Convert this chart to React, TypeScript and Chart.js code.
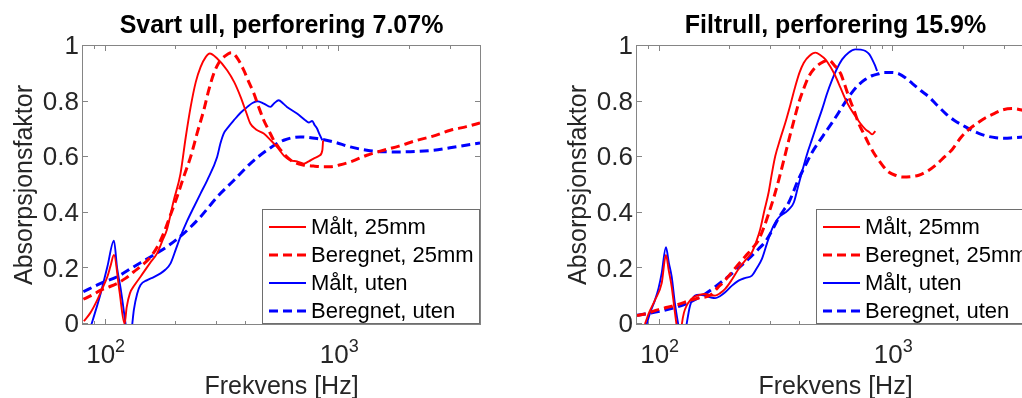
import React, { useEffect, useRef } from 'react';
import { Chart, registerables } from 'chart.js';

Chart.register(...registerables);

// ---------- axis definitions ----------
const X_MIN = 80;
const X_MAX = 4000;
const Y_MIN = 0;
const Y_MAX = 1;
const yTicks = [0, 0.2, 0.4, 0.6, 0.8, 1];
const yTickLabels = ['0', '0.2', '0.4', '0.6', '0.8', '1'];
const xMajorTicks = [100, 1000];
const xMajorBase = ['10', '10'];
const xMajorExp = ['2', '3'];
const xMinorTicks = [90, 200, 300, 400, 500, 600, 700, 800, 900, 2000, 3000];
const xAxisLabel = 'Frekvens [Hz]';
const yAxisLabel = 'Absorpsjonsfaktor';
const legendLabels = ['Målt, 25mm', 'Beregnet, 25mm', 'Målt, uten', 'Beregnet, uten'];
const titleLeft = 'Svart ull, perforering 7.07%';
const titleRight = 'Filtrull, perforering 15.9%';

// ---------- left panel data ----------
const leftMaalt25Freq = [80.7, 86, 92, 97, 101.7, 105, 108.5, 114.5, 120.5, 123, 127, 133, 141, 155, 166, 175, 183, 195, 209, 220, 231, 243, 255, 268, 279, 300, 331, 355, 378, 400, 416, 440, 475, 510, 541, 580, 617, 660, 705, 740, 776, 820, 846, 852];
const leftMaalt25Alpha = [0.01, 0.04, 0.086, 0.13, 0.17, 0.21, 0.248, 0.12, 0.0, 0.06, 0.11, 0.14, 0.17, 0.22, 0.254, 0.3, 0.34, 0.44, 0.54, 0.67, 0.78, 0.87, 0.925, 0.96, 0.973, 0.955, 0.913, 0.87, 0.817, 0.76, 0.721, 0.7, 0.685, 0.66, 0.637, 0.605, 0.589, 0.585, 0.577, 0.585, 0.595, 0.605, 0.625, 0.66];

const leftBeregnet25Freq = [80.3, 88, 95.2, 103, 112, 122, 132, 144, 156, 167, 177, 189, 202, 216, 231, 247, 263, 276, 290, 305, 320, 345, 367, 390, 410, 431, 452, 475, 500, 524, 550, 578, 606, 636, 700, 776, 850, 914, 1000, 1115, 1312, 1546, 1800, 2154, 2500, 2987, 3500, 4000];
const leftBeregnet25Alpha = [0.089, 0.105, 0.122, 0.133, 0.146, 0.165, 0.188, 0.213, 0.242, 0.28, 0.326, 0.39, 0.457, 0.53, 0.601, 0.69, 0.769, 0.84, 0.9, 0.94, 0.96, 0.976, 0.955, 0.913, 0.87, 0.829, 0.78, 0.733, 0.695, 0.661, 0.635, 0.613, 0.596, 0.583, 0.572, 0.568, 0.566, 0.566, 0.572, 0.583, 0.607, 0.625, 0.64, 0.661, 0.675, 0.697, 0.71, 0.723];

const leftMaaltUtenFreq = [86.3, 90, 95.2, 101.7, 108.5, 112, 115.9, 121.7, 124, 128, 130, 132, 136.5, 141, 150.6, 160, 171.8, 180, 189.6, 200, 209, 223, 238.6, 255, 272, 300, 310, 320, 336, 354, 378, 404, 425, 445, 475, 507, 528, 550, 575, 597, 659, 715, 740, 765, 785, 803, 825, 846];
const leftMaaltUtenAlpha = [-0.01, 0.04, 0.11, 0.206, 0.3, 0.2, 0.128, 0.0, -0.05, -0.05, 0.0, 0.05, 0.11, 0.14, 0.158, 0.168, 0.182, 0.195, 0.218, 0.27, 0.314, 0.37, 0.421, 0.47, 0.517, 0.601, 0.65, 0.685, 0.71, 0.733, 0.76, 0.781, 0.795, 0.801, 0.793, 0.781, 0.795, 0.805, 0.793, 0.781, 0.757, 0.733, 0.725, 0.73, 0.715, 0.703, 0.68, 0.661];

const leftBeregnetUtenFreq = [80.3, 95.2, 112, 132, 156, 183, 216, 255, 300, 354, 416, 490, 578, 681, 803, 945, 1115, 1312, 1500, 1822, 2536, 3200, 4000];
const leftBeregnetUtenAlpha = [0.116, 0.146, 0.17, 0.206, 0.242, 0.278, 0.326, 0.386, 0.457, 0.517, 0.577, 0.625, 0.661, 0.673, 0.667, 0.655, 0.637, 0.625, 0.62, 0.619, 0.625, 0.638, 0.651];

// ---------- right panel data ----------
const rightMaalt25Freq = [86.5, 90, 95.5, 102, 106.4, 109.5, 112.6, 115.5, 118, 120, 123, 124.5, 127, 130.5, 135, 139.5, 147, 156.5, 165, 172.7, 181, 190.7, 204, 217.6, 233, 248.3, 260, 269.4, 281, 292.6, 302, 312.5, 328, 345, 363, 381, 397, 414, 438, 464, 488, 512, 538, 565, 594, 624, 655, 688, 722, 760, 790, 812, 838];
const rightMaalt25Alpha = [0.0, 0.04, 0.086, 0.146, 0.248, 0.19, 0.134, 0.06, 0.0, -0.05, -0.05, 0.0, 0.04, 0.066, 0.085, 0.096, 0.104, 0.108, 0.104, 0.102, 0.11, 0.126, 0.16, 0.198, 0.23, 0.258, 0.3, 0.341, 0.41, 0.473, 0.54, 0.604, 0.665, 0.724, 0.79, 0.856, 0.905, 0.94, 0.965, 0.976, 0.967, 0.952, 0.925, 0.892, 0.85, 0.808, 0.775, 0.748, 0.722, 0.7, 0.69, 0.682, 0.694];

const rightBeregnet25Freq = [80, 90, 97, 108, 120, 135, 146, 165, 177, 190.7, 210, 232, 248, 265, 280, 293, 308, 323, 340, 357, 375, 393, 413, 434, 460, 487, 530, 560, 595, 620, 645, 678, 711, 747, 784, 824, 866, 910, 955, 1020, 1091, 1180, 1285, 1400, 1515, 1650, 1787, 1950, 2105, 2300, 2482, 2700, 2927, 3250, 3566, 4000];
const rightBeregnet25Alpha = [0.03, 0.04, 0.05, 0.06, 0.07, 0.085, 0.093, 0.104, 0.13, 0.158, 0.2, 0.242, 0.27, 0.302, 0.35, 0.398, 0.455, 0.517, 0.59, 0.661, 0.73, 0.793, 0.845, 0.889, 0.92, 0.937, 0.949, 0.93, 0.901, 0.86, 0.817, 0.77, 0.721, 0.685, 0.649, 0.616, 0.589, 0.565, 0.547, 0.535, 0.529, 0.53, 0.535, 0.55, 0.571, 0.6, 0.628, 0.672, 0.7, 0.724, 0.742, 0.757, 0.77, 0.775, 0.769, 0.755];

const rightMaaltUtenFreq = [88, 91, 95.5, 99, 102, 106.4, 109.5, 112.6, 116, 120, 123, 128, 130.5, 134.9, 141.8, 148, 156.5, 165, 172.7, 181, 190.7, 204, 217.6, 233, 248.3, 260, 274, 288, 302.5, 315, 328.5, 345, 360, 375, 390, 406, 427, 449, 472, 496, 521, 548, 575, 604, 645, 688, 725, 760, 790, 812, 835, 852];
const rightMaaltUtenAlpha = [0.0, 0.04, 0.086, 0.13, 0.182, 0.276, 0.22, 0.17, 0.08, 0.0, -0.05, -0.05, 0.0, 0.066, 0.102, 0.105, 0.102, 0.096, 0.093, 0.1, 0.114, 0.138, 0.156, 0.166, 0.174, 0.2, 0.234, 0.29, 0.341, 0.37, 0.389, 0.401, 0.415, 0.437, 0.49, 0.545, 0.61, 0.665, 0.72, 0.773, 0.83, 0.88, 0.92, 0.952, 0.977, 0.988, 0.987, 0.982, 0.97, 0.952, 0.93, 0.91];

const rightBeregnetUtenFreq = [80, 102, 128, 156.5, 190.7, 232, 265, 282, 300, 320, 340, 357, 393, 420, 449, 480, 512, 548, 584, 625, 666, 710, 760, 810, 866, 910, 980, 1057, 1130, 1207, 1310, 1420, 1540, 1675, 1820, 1979, 2150, 2333, 2540, 2752, 3000, 3247, 3594, 4000];
const rightBeregnetUtenAlpha = [0.031, 0.047, 0.071, 0.108, 0.162, 0.222, 0.27, 0.294, 0.33, 0.375, 0.41, 0.437, 0.521, 0.57, 0.617, 0.655, 0.689, 0.725, 0.761, 0.8, 0.833, 0.86, 0.88, 0.893, 0.9, 0.905, 0.905, 0.9, 0.885, 0.865, 0.84, 0.817, 0.787, 0.757, 0.733, 0.715, 0.698, 0.685, 0.675, 0.67, 0.668, 0.67, 0.673, 0.68];

// ---------- styling ----------
const FONT = '"Liberation Sans", Arial, Helvetica, sans-serif';
const RED = '#ff0000';
const BLUE = '#0000ff';
const TEXT_GRAY = '#262626';
const FRAME_GRAY = '#858585';
const SOLID_W = 1.9;
const DASH_W = 3;

type Series = { label: string; freq: number[]; alpha: number[]; color: string; dashed: boolean };

function makeSeries(f1: number[], a1: number[], f2: number[], a2: number[], f3: number[], a3: number[], f4: number[], a4: number[]): Series[] {
  return [
    { label: legendLabels[0], freq: f1, alpha: a1, color: RED, dashed: false },
    { label: legendLabels[1], freq: f2, alpha: a2, color: RED, dashed: true },
    { label: legendLabels[2], freq: f3, alpha: a3, color: BLUE, dashed: false },
    { label: legendLabels[3], freq: f4, alpha: a4, color: BLUE, dashed: true },
  ];
}

const leftSeries = makeSeries(leftMaalt25Freq, leftMaalt25Alpha, leftBeregnet25Freq, leftBeregnet25Alpha, leftMaaltUtenFreq, leftMaaltUtenAlpha, leftBeregnetUtenFreq, leftBeregnetUtenAlpha);
const rightSeries = makeSeries(rightMaalt25Freq, rightMaalt25Alpha, rightBeregnet25Freq, rightBeregnet25Alpha, rightMaaltUtenFreq, rightMaaltUtenAlpha, rightBeregnetUtenFreq, rightBeregnetUtenAlpha);

function decorPlugin(title: string, series: Series[]) {
  return {
    id: 'matlabDecor',
    afterDatasetsDraw(chart: any) {
      const { ctx, chartArea: a, scales } = chart;
      const xs = scales.x;
      const ys = scales.y;
      const L = Math.round(a.left), R = Math.round(a.right), T = Math.round(a.top), B = Math.round(a.bottom);
      ctx.save();
      // frame
      ctx.strokeStyle = FRAME_GRAY;
      ctx.lineWidth = 1;
      ctx.strokeRect(L - 0.5, T - 0.5, R - L + 1, B - T + 1);
      // ticks (inward)
      ctx.beginPath();
      yTicks.forEach((v) => {
        const py = Math.round(ys.getPixelForValue(v)) - 0.5;
        ctx.moveTo(L, py); ctx.lineTo(L + 5, py);
        ctx.moveTo(R, py); ctx.lineTo(R - 5, py);
      });
      xMajorTicks.forEach((v) => {
        const px = Math.round(xs.getPixelForValue(v)) - 0.5;
        ctx.moveTo(px, B); ctx.lineTo(px, B - 5);
        ctx.moveTo(px, T); ctx.lineTo(px, T + 5);
      });
      xMinorTicks.forEach((v) => {
        const px = Math.round(xs.getPixelForValue(v)) - 0.5;
        ctx.moveTo(px, B); ctx.lineTo(px, B - 3);
        ctx.moveTo(px, T); ctx.lineTo(px, T + 3);
      });
      ctx.stroke();

      // y tick labels
      ctx.fillStyle = TEXT_GRAY;
      ctx.font = `26px ${FONT}`;
      ctx.textAlign = 'right';
      ctx.textBaseline = 'middle';
      yTicks.forEach((v, i) => {
        ctx.fillText(yTickLabels[i], L - 4, ys.getPixelForValue(v) + 1);
      });
      // x tick labels with superscript exponent
      ctx.textAlign = 'left';
      ctx.textBaseline = 'alphabetic';
      xMajorTicks.forEach((v, i) => {
        const px = xs.getPixelForValue(v);
        ctx.font = `26px ${FONT}`;
        const wb = ctx.measureText(xMajorBase[i]).width;
        ctx.font = `18px ${FONT}`;
        const we = ctx.measureText(xMajorExp[i]).width;
        const x0 = px - (wb + we) / 2;
        ctx.font = `26px ${FONT}`;
        ctx.fillText(xMajorBase[i], x0, B + 39);
        ctx.font = `18px ${FONT}`;
        ctx.fillText(xMajorExp[i], x0 + wb, B + 28);
      });
      // axis labels
      ctx.font = `25px ${FONT}`;
      ctx.textAlign = 'center';
      ctx.fillText(xAxisLabel, (L + R) / 2, B + 70);
      ctx.save();
      ctx.translate(L - 51, (T + B) / 2);
      ctx.rotate(-Math.PI / 2);
      ctx.fillText(yAxisLabel, 0, 0);
      ctx.restore();
      // title
      ctx.fillStyle = '#000000';
      ctx.font = `bold 25px ${FONT}`;
      ctx.fillText(title, (L + R) / 2, 33);

      // legend
      const lw = 218, lh = 115;
      const lx = R - lw, ly = B - lh;
      ctx.fillStyle = '#ffffff';
      ctx.fillRect(lx, ly, lw, lh);
      ctx.strokeStyle = '#6e6e6e';
      ctx.lineWidth = 1;
      ctx.strokeRect(lx + 0.5, ly + 0.5, lw - 1, lh - 1);
      ctx.font = `22px ${FONT}`;
      ctx.textAlign = 'left';
      ctx.textBaseline = 'middle';
      series.forEach((s, i) => {
        const cy = ly + 18 + i * 28;
        ctx.strokeStyle = s.color;
        ctx.lineWidth = s.dashed ? DASH_W : SOLID_W;
        ctx.setLineDash(s.dashed ? [9, 5] : []);
        ctx.beginPath();
        ctx.moveTo(lx + 7, cy);
        ctx.lineTo(lx + 44, cy);
        ctx.stroke();
        ctx.setLineDash([]);
        ctx.fillStyle = '#000000';
        ctx.fillText(s.label, lx + 49, cy + 1);
      });
      ctx.restore();
    },
  };
}

function Panel(props: { title: string; series: Series[]; left: number; width: number; padLeft: number; padRight: number }) {
  const ref = useRef<HTMLCanvasElement>(null);
  useEffect(() => {
    const canvas = ref.current;
    if (!canvas) return;
    const chart = new Chart(canvas, {
      type: 'line',
      data: {
        datasets: props.series.map((s) => ({
          label: s.label,
          data: s.freq.map((f, i) => ({ x: f, y: s.alpha[i] })),
          borderColor: s.color,
          backgroundColor: s.color,
          borderWidth: s.dashed ? DASH_W : SOLID_W,
          borderDash: s.dashed ? [9, 5] : [],
          pointRadius: 0,
          fill: false,
          cubicInterpolationMode: 'monotone' as const,
          clip: 0,
        })),
      },
      options: {
        responsive: false,
        animation: false,
        devicePixelRatio: 1,
        layout: { padding: { left: props.padLeft, right: props.padRight, top: 46, bottom: 74 } },
        scales: {
          x: { type: 'logarithmic', min: X_MIN, max: X_MAX, display: false },
          y: { type: 'linear', min: Y_MIN, max: Y_MAX, display: false },
        },
        plugins: { legend: { display: false }, tooltip: { enabled: false }, title: { display: false } },
        events: [],
      },
      plugins: [decorPlugin(props.title, props.series)],
    } as any);
    return () => chart.destroy();
  }, []);
  return (
    <canvas
      ref={ref}
      width={props.width}
      height={398}
      style={{ position: 'absolute', left: props.left, top: 0, width: props.width, height: 398, display: 'block' }}
    />
  );
}

export default function App() {
  return (
    <div style={{ position: 'fixed', left: 0, top: 0, width: 1022, height: 398, overflow: 'hidden', background: '#ffffff' }}>
      <Panel title={titleLeft} series={leftSeries} left={0} width={511} padLeft={83} padRight={31} />
      <Panel title={titleRight} series={rightSeries} left={511} width={560} padLeft={126} padRight={37} />
    </div>
  );
}
